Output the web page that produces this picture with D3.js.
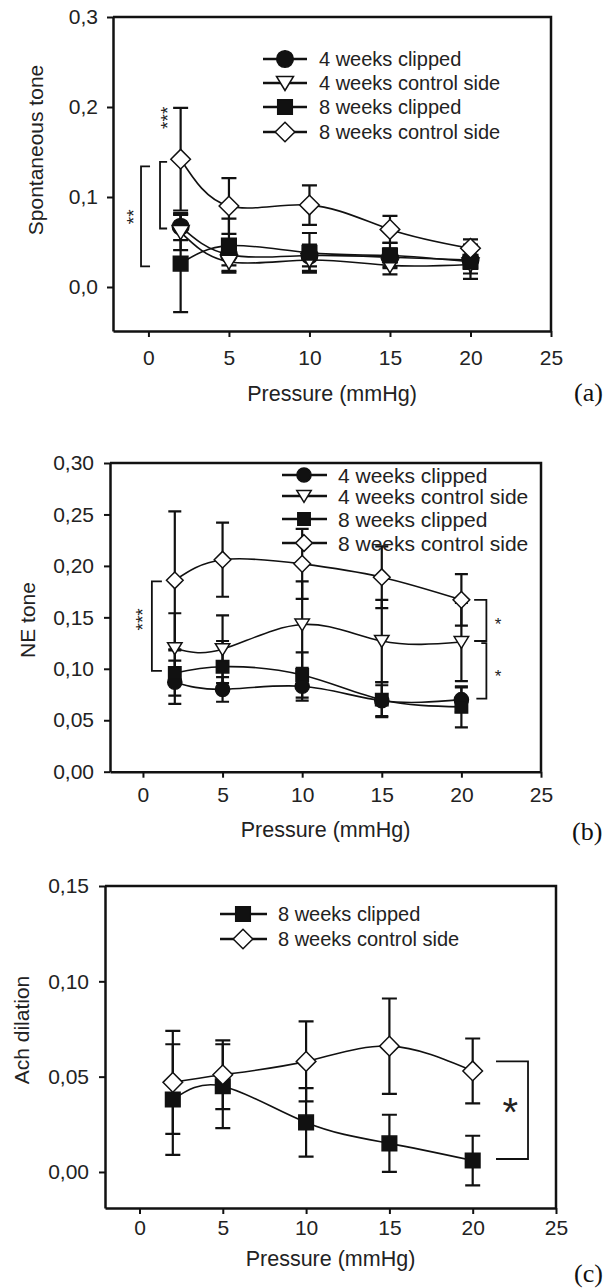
<!DOCTYPE html>
<html>
<head>
<meta charset="utf-8">
<script src="https://cdn.jsdelivr.net/npm/d3@7"></script>
<style>
  body { margin: 0; background: #fff; }
  svg { display: block; }
  text { font-family: "Liberation Sans", Arial, sans-serif; fill: #222; }
</style>
</head>
<body>
<svg id="chart" width="605" height="1288"></svg>
<script>

// ---- data ----
var pressure = [2, 5, 10, 15, 20];
var xTicks = [0, 5, 10, 15, 20, 25];
var seriesNames = ["4 weeks clipped", "4 weeks control side", "8 weeks clipped", "8 weeks control side"];

// (a) spontaneous tone
var spontTicks = [0, 0.1, 0.2, 0.3];
var spont4Clip = [0.067, 0.036, 0.035, 0.033, 0.030];
var spont4ClipErr = [0.015, 0.012, 0.012, 0.010, 0.010];
var spont4Ctrl = [0.061, 0.028, 0.030, 0.024, 0.025];
var spont4CtrlErr = [0.020, 0.010, 0.012, 0.010, 0.010];
var spont8Clip = [0.026, 0.046, 0.038, 0.035, 0.028];
var spont8ClipErr = [0.054, 0.030, 0.022, 0.014, 0.019];
var spont8Ctrl = [0.142, 0.090, 0.091, 0.064, 0.043];
var spont8CtrlErr = [0.057, 0.031, 0.022, 0.015, 0.010];

// (b) NE tone
var neTicks = [0, 0.05, 0.10, 0.15, 0.20, 0.25, 0.30];
var ne4Clip = [0.087, 0.080, 0.083, 0.069, 0.070];
var ne4ClipErr = [0.021, 0.012, 0.014, 0.015, 0.012];
var ne4Ctrl = [0.120, 0.119, 0.143, 0.127, 0.126];
var ne4CtrlErr = [0.034, 0.033, 0.042, 0.040, 0.038];
var ne8Clip = [0.096, 0.102, 0.094, 0.070, 0.063];
var ne8ClipErr = [0.022, 0.025, 0.022, 0.017, 0.020];
var ne8Ctrl = [0.186, 0.206, 0.202, 0.189, 0.167];
var ne8CtrlErr = [0.067, 0.036, 0.034, 0.030, 0.025];

// (c) Ach dilation
var achTicks = [0, 0.05, 0.10, 0.15];
var ach8Clip = [0.038, 0.045, 0.026, 0.015, 0.006];
var ach8ClipErr = [0.029, 0.022, 0.018, 0.015, 0.013];
var ach8Ctrl = [0.047, 0.051, 0.058, 0.066, 0.053];
var ach8CtrlErr = [0.027, 0.018, 0.021, 0.025, 0.017];

// significance brackets, in data units (pressure, value)
var spontBrackets = [
  { x: -0.46, tick: 0.1, y0: 0.134, y1: 0.023, label: "**", lx: -1.2, ly: 0.078, rotate: true },
  { x: 0.72, tick: 1.16, y0: 0.139, y1: 0.065, label: "***", lx: 0.9, ly: 0.188, rotate: true }
];
var neBrackets = [
  { x: 0.56, tick: 1.19, y0: 0.185, y1: 0.098, label: "***", lx: -0.31, ly: 0.148, rotate: true },
  { x: 21.57, tick: 20.8, y0: 0.167, y1: 0.127, label: "*", lx: 22.3, ly: 0.147 },
  { x: 21.57, tick: 20.94, tickTop: 21.25, y0: 0.125, y1: 0.071, label: "*", lx: 22.3, ly: 0.097 }
];
var achBrackets = [
  { x: 23.32, tick: 21.4, y0: 0.058, y1: 0.0068, label: "*", lx: 22.25, ly: 0.036, big: true }
];

// ---- drawing ----
var svg = d3.select("#chart");
var comma = d3.formatLocale({ decimal: ",", thousands: ".", grouping: [3], currency: ["", ""] });

var markerOf = {
  "4 weeks clipped": "circle",
  "4 weeks control side": "triangle",
  "8 weeks clipped": "square",
  "8 weeks control side": "diamond"
};

function markerPath(type, k) {
  var p = d3.path();
  if (type == "circle") {
    p.arc(0, 0, 8.3 * k, 0, 2 * Math.PI);
  } else if (type == "square") {
    var s = 7.3 * k;
    p.rect(-s, -s, 2 * s, 2 * s);
  } else if (type == "diamond") {
    var h = 9.8 * k;
    p.moveTo(0, -h); p.lineTo(h, 0); p.lineTo(0, h); p.lineTo(-h, 0); p.closePath();
  } else {
    p.moveTo(-8.5 * k, -6.5 * k); p.lineTo(8.5 * k, -6.5 * k); p.lineTo(0, 7.5 * k); p.closePath();
  }
  return p.toString();
}
function markerFill(type) {
  return (type == "circle" || type == "square") ? "#111" : "#fff";
}

function drawPanel(cfg) {
  var g = svg.append("g").attr("class", "panel-" + cfg.id);
  var b = cfg.box;

  var x = d3.scaleLinear().domain(cfg.xDomain).range([b.left, b.right]);
  var y = d3.scaleLinear().domain(cfg.yDomain).range([b.bottom, b.top]);

  // frame (top + right)
  g.append("path")
    .attr("d", "M" + b.left + "," + b.top + "H" + b.right + "V" + b.bottom)
    .attr("fill", "none").attr("stroke", "#111").attr("stroke-width", 2.5);

  var xAxis = g.append("g")
    .attr("transform", "translate(0," + b.bottom + ")")
    .call(d3.axisBottom(x).tickValues(xTicks).tickSize(6).tickSizeOuter(0).tickFormat(d3.format("d")));
  xAxis.selectAll("text").attr("y", cfg.xTickBase - b.bottom).attr("dy", 0);

  var yAxis = g.append("g")
    .attr("transform", "translate(" + b.left + ",0)")
    .call(d3.axisLeft(y).tickValues(cfg.yTicks).tickSize(6).tickSizeOuter(0).tickPadding(cfg.yPad)
      .tickFormat(comma.format(cfg.yFmt)));

  g.selectAll(".domain").attr("stroke", "#111").attr("stroke-width", 2.5);
  g.selectAll(".tick line").attr("stroke", "#111").attr("stroke-width", 2);
  g.selectAll(".tick text").attr("font-size", 21).attr("fill", "#222");

  // axis titles
  g.append("text")
    .attr("x", (b.left + b.right) / 2).attr("y", cfg.xTitleBase)
    .attr("text-anchor", "middle").attr("font-size", 21.5)
    .text("Pressure (mmHg)");
  g.append("text")
    .attr("transform", "translate(" + cfg.yTitleX + "," + cfg.yTitleY + ") rotate(-90)")
    .attr("text-anchor", "middle").attr("font-size", 21)
    .text(cfg.yTitle);

  // panel tag (serif, like the paper's figure labels)
  g.append("text")
    .attr("x", cfg.tag.x).attr("y", cfg.tag.y)
    .style("font-family", "\"Liberation Serif\", \"Times New Roman\", serif")
    .style("fill", "#111")
    .attr("font-size", 26)
    .text(cfg.tag.text);

  // error bars
  var cap = cfg.cap / 2;
  cfg.series.forEach(function (s) {
    var eb = g.append("g").attr("stroke", "#111").attr("stroke-width", 2.2).attr("fill", "none");
    s.values.forEach(function (v, i) {
      var cx = x(pressure[i]);
      var top = y(v + s.err[i]), bot = y(v - s.err[i]);
      eb.append("path")
        .attr("d", "M" + cx + "," + top + "V" + bot +
          "M" + (cx - cap) + "," + top + "H" + (cx + cap) +
          "M" + (cx - cap) + "," + bot + "H" + (cx + cap));
    });
  });

  // curves
  var line = d3.line()
    .x(function (d, i) { return x(pressure[i]); })
    .y(function (d) { return y(d); })
    .curve(d3.curveNatural);
  cfg.series.forEach(function (s) {
    g.append("path")
      .attr("d", line(s.values))
      .attr("fill", "none").attr("stroke", "#111").attr("stroke-width", 1.6);
  });

  // markers
  cfg.series.forEach(function (s) {
    var type = markerOf[s.name];
    g.append("g").selectAll("path")
      .data(s.values)
      .enter().append("path")
      .attr("transform", function (d, i) { return "translate(" + x(pressure[i]) + "," + y(d) + ")"; })
      .attr("d", markerPath(type, cfg.mk))
      .attr("fill", markerFill(type))
      .attr("stroke", "#111").attr("stroke-width", 1.5);
  });

  // legend
  var lg = cfg.legend;
  cfg.series.forEach(function (s, i) {
    var ry = lg.rows[i];
    var type = markerOf[s.name];
    g.append("line")
      .attr("x1", lg.x0).attr("x2", lg.x1).attr("y1", ry).attr("y2", ry)
      .attr("stroke", "#111").attr("stroke-width", 2.5);
    g.append("path")
      .attr("transform", "translate(" + lg.mx + "," + ry + ")")
      .attr("d", markerPath(type, cfg.mk))
      .attr("fill", markerFill(type))
      .attr("stroke", "#111").attr("stroke-width", 1.5);
    g.append("text")
      .attr("x", lg.tx).attr("y", ry).attr("dy", "0.36em")
      .attr("font-size", lg.fs)
      .text(s.name);
  });

  // significance brackets
  cfg.brackets.forEach(function (br) {
    var bx = x(br.x), t0 = x(br.tick), t1 = x(br.tickTop != null ? br.tickTop : br.tick);
    g.append("path")
      .attr("d", "M" + t1 + "," + y(br.y0) + "H" + bx + "V" + y(br.y1) + "H" + t0)
      .attr("fill", "none").attr("stroke", "#111").attr("stroke-width", 1.8);
    var fs = br.big ? 40 : (br.rotate ? 19 : 17);
    var lt = g.append("text")
      .attr("text-anchor", "middle")
      .attr("font-size", fs)
      .attr("dy", "0.57em")
      .text(br.label);
    if (br.rotate) {
      lt.attr("transform", "translate(" + x(br.lx) + "," + y(br.ly) + ") rotate(-90)");
    } else {
      lt.attr("x", x(br.lx)).attr("y", y(br.ly));
    }
  });
}

drawPanel({
  id: "a",
  box: { left: 113, right: 551, top: 17, bottom: 331 },
  xDomain: [-2.2, 25], yDomain: [-0.0489, 0.3],
  yTicks: spontTicks, yFmt: ".1f", yPad: 9,
  xTickBase: 365, xTitleBase: 401,
  yTitle: "Spontaneous tone", yTitleX: 43, yTitleY: 150,
  tag: { text: "(a)", x: 574, y: 401 },
  cap: 15, mk: 1.0,
  series: [
    { name: seriesNames[0], values: spont4Clip, err: spont4ClipErr },
    { name: seriesNames[1], values: spont4Ctrl, err: spont4CtrlErr },
    { name: seriesNames[2], values: spont8Clip, err: spont8ClipErr },
    { name: seriesNames[3], values: spont8Ctrl, err: spont8CtrlErr }
  ],
  legend: { x0: 263, x1: 307, mx: 285, tx: 319, rows: [59, 83, 107, 132], fs: 20 },
  brackets: spontBrackets
});

drawPanel({
  id: "b",
  box: { left: 110, right: 541, top: 463, bottom: 771.7 },
  xDomain: [-2.07, 25], yDomain: [0, 0.3],
  yTicks: neTicks, yFmt: ".2f", yPad: 10,
  xTickBase: 802, xTitleBase: 837,
  yTitle: "NE tone", yTitleX: 35, yTitleY: 620,
  tag: { text: "(b)", x: 572, y: 840 },
  cap: 13, mk: 0.85,
  series: [
    { name: seriesNames[0], values: ne4Clip, err: ne4ClipErr },
    { name: seriesNames[1], values: ne4Ctrl, err: ne4CtrlErr },
    { name: seriesNames[2], values: ne8Clip, err: ne8ClipErr },
    { name: seriesNames[3], values: ne8Ctrl, err: ne8CtrlErr }
  ],
  legend: { x0: 282, x1: 327, mx: 304, tx: 338, rows: [475, 496, 519, 543], fs: 21 },
  brackets: neBrackets
});

drawPanel({
  id: "c",
  box: { left: 105, right: 556, top: 886, bottom: 1208 },
  xDomain: [-2.07, 25], yDomain: [-0.0189, 0.15],
  yTicks: achTicks, yFmt: ".2f", yPad: 10,
  xTickBase: 1235, xTitleBase: 1266,
  yTitle: "Ach dilation", yTitleX: 29, yTitleY: 1030,
  tag: { text: "(c)", x: 574, y: 1282 },
  cap: 15, mk: 1.0,
  series: [
    { name: seriesNames[2], values: ach8Clip, err: ach8ClipErr },
    { name: seriesNames[3], values: ach8Ctrl, err: ach8CtrlErr }
  ],
  legend: { x0: 220, x1: 267, mx: 243, tx: 278, rows: [914, 939], fs: 20 },
  brackets: achBrackets
});

</script>
</body>
</html>
